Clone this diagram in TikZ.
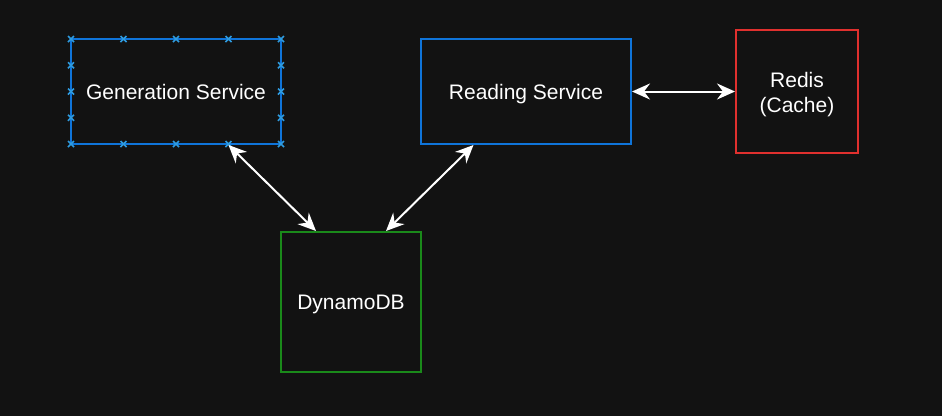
\documentclass[tikz,border=0pt]{standalone}
\usepackage{fontspec}
\setmainfont{Liberation Sans}
\usetikzlibrary{arrows.meta}
\definecolor{bg}{HTML}{121212}
\definecolor{bblue}{HTML}{0F74D9}
\definecolor{bgreen}{HTML}{1A8A1A}
\definecolor{bred}{HTML}{E0302E}
\definecolor{hblue}{HTML}{2E9BE0}
\tikzset{
  boxfont/.style={text=white, font=\fontsize{21}{25.5}\selectfont},
  box/.style={draw, line width=2pt, fill=bg, boxfont, inner sep=0pt, align=center, text height=15pt, text depth=0pt},
  txt/.style={boxfont, inner sep=0pt, align=center},
  link/.style={draw=white, line width=2pt, {Stealth[length=18pt,width=16pt,inset=6pt]}-{Stealth[length=18pt,width=16pt,inset=6pt]}},
  handle/.style={draw=hblue, line width=1.6pt}
}
\begin{document}
\begin{tikzpicture}[x=1pt,y=-1pt]
\fill[bg] (0,0) rectangle (942,416);
\useasboundingbox (0,0) rectangle (942,416);
\node[box, draw=bblue, minimum width=210pt, minimum height=105pt] (gen) at (176,91.5) {Generation Service};
\node[box, draw=bblue, minimum width=210pt, minimum height=105pt] (read) at (526,91.5) {Reading Service};
\node[box, draw=bred, minimum width=122pt, minimum height=123pt] (redis) at (797,91.5) {};
\node[txt] (redistext) at ([yshift=-3pt]redis.center) {Redis\\(Cache)};
\node[box, draw=bgreen, minimum width=140pt, minimum height=140pt] (dyn) at (351,302) {DynamoDB};
% selection handles
\foreach \hx in {71,123.5,176,228.5,281} {
  \foreach \hy in {39,144} {
    \draw[handle] (\hx-3,\hy-3) -- (\hx+3,\hy+3) (\hx-3,\hy+3) -- (\hx+3,\hy-3);
  }
}
\foreach \hy in {65.25,91.5,117.75} {
  \foreach \hx in {71,281} {
    \draw[handle] (\hx-3,\hy-3) -- (\hx+3,\hy+3) (\hx-3,\hy+3) -- (\hx+3,\hy-3);
  }
}
\coordinate (g1) at ([xshift=52.5pt]gen.south);
\coordinate (d1) at ([xshift=-35pt]dyn.north);
\coordinate (r1) at ([xshift=-52.5pt]read.south);
\coordinate (d2) at ([xshift=35pt]dyn.north);
\draw[link] (g1) -- (d1);
\draw[link] (r1) -- (d2);
\draw[link] (read.east) -- (redis.west);
\end{tikzpicture}
\end{document}
